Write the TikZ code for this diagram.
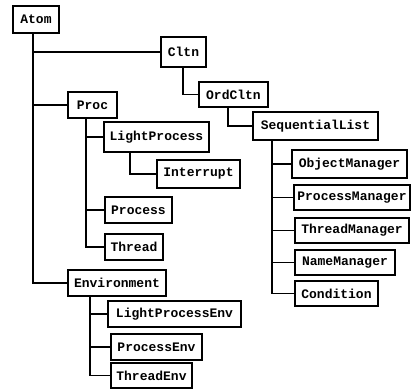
\documentclass[tikz,border=0pt]{standalone}
\usepackage{fontspec}
\setmonofont{Liberation Mono}
\begin{document}
\begin{tikzpicture}[x=1pt,y=-1pt,
  cls/.style={draw,line width=1.1pt,fill=white,inner sep=0pt,font=\ttfamily\bfseries\fontsize{13}{15}\selectfont},
  conn/.style={line width=1.1pt}]
\useasboundingbox (0,0) rectangle (412,391);
\node[cls,minimum width=46,minimum height=27] (Atom) at (36,19.5) {Atom};
\node[cls,minimum width=45,minimum height=30] (Cltn) at (183.5,52) {Cltn};
\node[cls,minimum width=69,minimum height=25] (OrdCltn) at (233.5,94.5) {OrdCltn};
\node[cls,minimum width=125,minimum height=28] (SeqList) at (315.5,126) {SequentialList};
\node[cls,minimum width=115,minimum height=28] (ObjMgr) at (349.5,164) {ObjectManager};
\node[cls,minimum width=116,minimum height=25] (ProcMgr) at (352,197.5) {ProcessManager};
\node[cls,minimum width=114,minimum height=25] (ThrMgr) at (352,230.5) {ThreadManager};
\node[cls,minimum width=100,minimum height=25] (NameMgr) at (345,262.5) {NameManager};
\node[cls,minimum width=83,minimum height=25] (Cond) at (336.5,293.5) {Condition};
\node[cls,minimum width=49,minimum height=26] (Proc) at (92.5,105) {Proc};
\node[cls,minimum width=105,minimum height=30] (LProc) at (156.5,137) {LightProcess};
\node[cls,minimum width=83,minimum height=28] (Intr) at (198.5,174) {Interrupt};
\node[cls,minimum width=67,minimum height=26] (Process) at (138.5,210) {Process};
\node[cls,minimum width=58,minimum height=26] (Thread) at (134,247) {Thread};
\node[cls,minimum width=98,minimum height=26] (Env) at (117,283) {Environment};
\node[cls,minimum width=133,minimum height=26] (LPEnv) at (174.5,314) {LightProcessEnv};
\node[cls,minimum width=91,minimum height=26] (PEnv) at (156.5,347) {ProcessEnv};
\node[cls,minimum width=81,minimum height=25] (TEnv) at (151.5,375.5) {ThreadEnv};
\begin{scope}[conn]
\draw ([xshift=-3pt]Atom.south) |- (Cltn.west);
\draw ([xshift=-3pt]Atom.south) |- (Proc.west);
\draw ([xshift=-3pt]Atom.south) |- (Env.west);
\draw ([xshift=-0.5pt]Cltn.south) |- (OrdCltn.west);
\draw ([xshift=-5.5pt]OrdCltn.south) |- (SeqList.west);
\draw ([xshift=-43.5pt]SeqList.south) |- (ObjMgr.west);
\draw ([xshift=-43.5pt]SeqList.south) |- (ProcMgr.west);
\draw ([xshift=-43.5pt]SeqList.south) |- (ThrMgr.west);
\draw ([xshift=-43.5pt]SeqList.south) |- (NameMgr.west);
\draw ([xshift=-43.5pt]SeqList.south) |- (Cond.west);
\draw ([xshift=-6.5pt]Proc.south) |- (LProc.west);
\draw ([xshift=-6.5pt]Proc.south) |- (Process.west);
\draw ([xshift=-6.5pt]Proc.south) |- (Thread.west);
\draw ([xshift=-26.5pt]LProc.south) |- (Intr.west);
\draw ([xshift=-27pt]Env.south) |- (LPEnv.west);
\draw ([xshift=-27pt]Env.south) |- (PEnv.west);
\draw ([xshift=-27pt]Env.south) |- (TEnv.west);
\end{scope}
\end{tikzpicture}
\end{document}
